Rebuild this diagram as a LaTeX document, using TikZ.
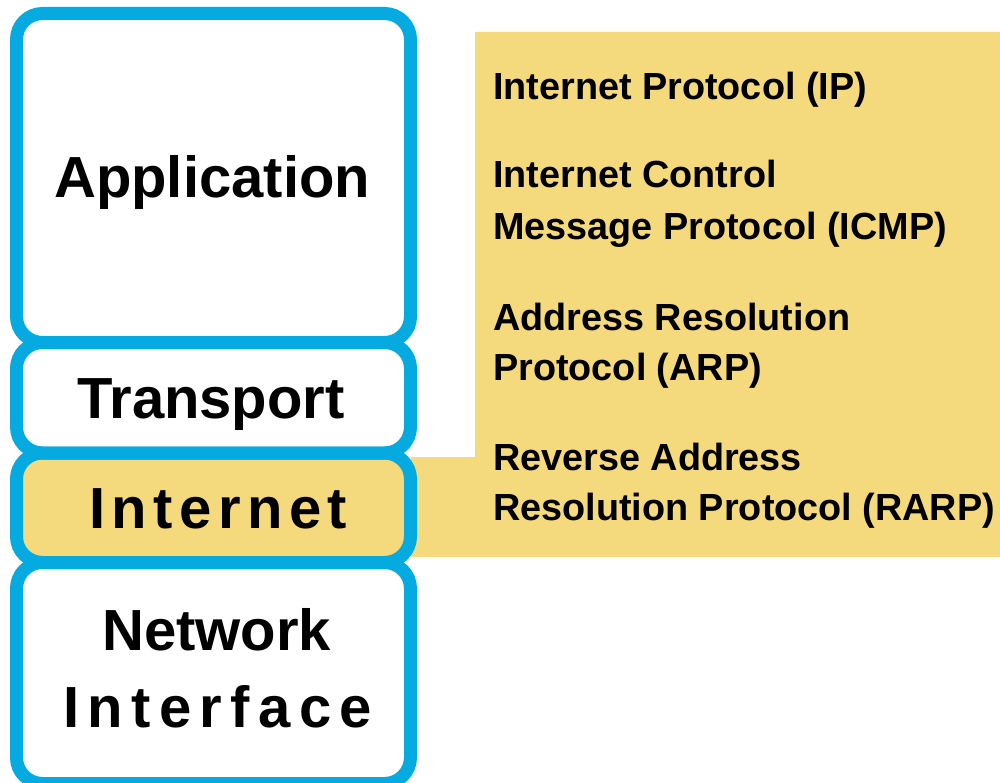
\documentclass[tikz,border=0pt]{standalone}
\usepackage{fontspec}
\setmainfont{Liberation Sans}
\definecolor{lblue}{RGB}{4,170,224}
\definecolor{lyellow}{RGB}{244,217,125}
\begin{document}
\begin{tikzpicture}[x=1pt,y=-1pt,
  layerline/.style={draw=lblue, line width=13pt, rounded corners=26pt},
  layerfill/.style={rounded corners=26pt},
  big/.style={font=\fontsize{58}{62}\selectfont\bfseries, anchor=base west, inner sep=0pt},
  small/.style={font=\fontsize{37.8}{46}\selectfont\bfseries, anchor=base west, inner sep=0pt}]
\useasboundingbox (0,0) rectangle (1000,783);
% yellow protocol panel
\fill[lyellow] (475,32) -- (1000,32) -- (1000,557) -- (411,557) -- (411,457) -- (475,457) -- cycle;
% fills
\fill[layerfill, white]   (16.5,13.5)  rectangle (410.5,342.5);
\fill[layerfill, white]   (16.5,342.5) rectangle (410.5,453);
\fill[layerfill, lyellow] (16.5,453)   rectangle (410.5,562.5);
\fill[layerfill, white]   (16.5,562.5) rectangle (410.5,783.5);
% outlines
\draw[layerline] (16.5,13.5)  rectangle (410.5,342.5);
\draw[layerline] (16.5,342.5) rectangle (410.5,453);
\draw[layerline] (16.5,453)   rectangle (410.5,562.5);
\draw[layerline] (16.5,562.5) rectangle (410.5,783.5);
% layer labels
\node[big] (app) at (54,198) {Application};
\node[big] (trans) at (77,418) {Transport};
\node[big] (inet) at (89,528) {\addfontfeature{LetterSpace=11.2}Internet};
\node[big] (net) at (102,650) {Network};
\node[big] (iface) at (63,727) {\addfontfeature{LetterSpace=14.5}Interface};
% protocols
\node[small] (ip) at (493,100) {Internet Protocol (IP)};
\node[small] (icmp1) at (493,188) {Internet Control};
\node[small] (icmp2) at (493,240) {Message Protocol (ICMP)};
\node[small] (arp1) at (493,330) {Address Resolution};
\node[small] (arp2) at (493,380) {Protocol (ARP)};
\node[small] (rarp1) at (493,470) {Reverse Address};
\node[small] (rarp2) at (493,520) {Resolution Protocol (RARP)};
\end{tikzpicture}
\end{document}
